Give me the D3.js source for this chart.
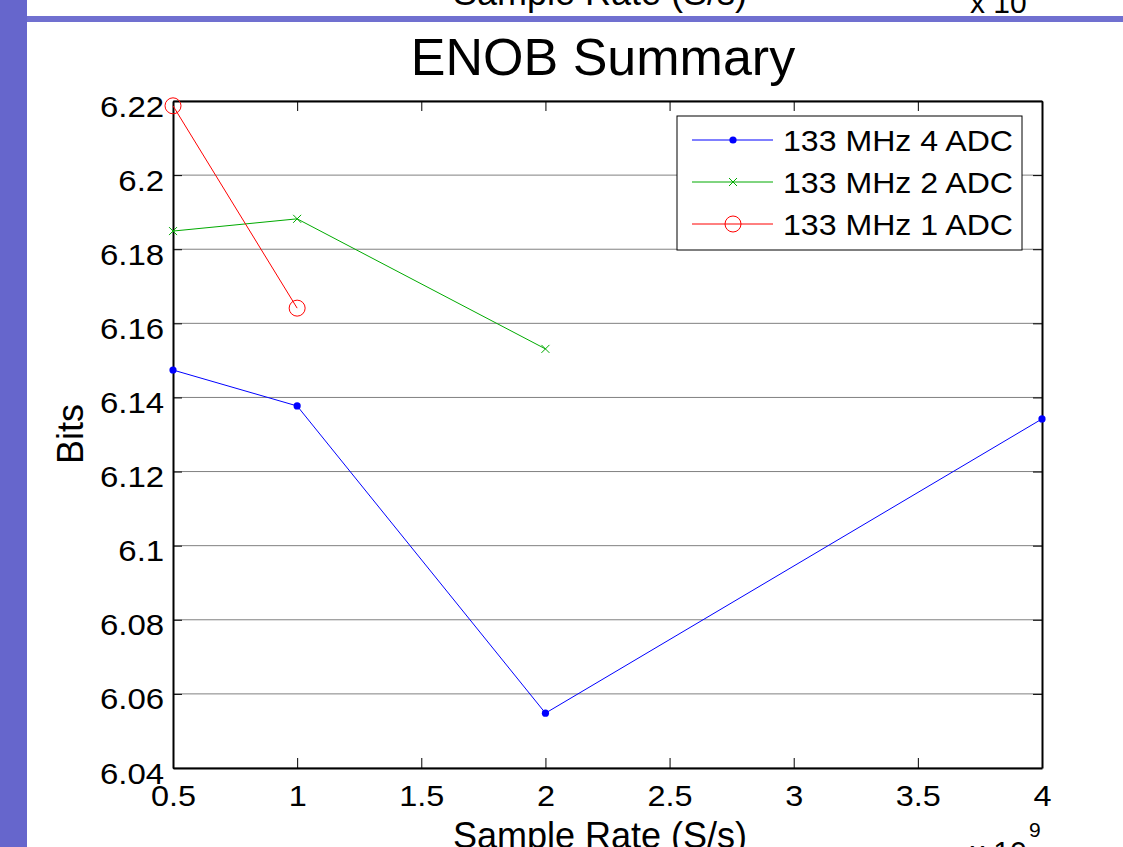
<!DOCTYPE html>
<html>
<head>
<meta charset="utf-8">
<script src="https://cdn.jsdelivr.net/npm/d3@7"></script>
<style>
  body { margin: 0; background: #fff; overflow: hidden; }
  text { font-family: "Liberation Sans", Arial, Helvetica, sans-serif; fill: #000; }
</style>
</head>
<body>
<div id="chart"></div>
<script>
// values (rates in units of 1e9 S/s)
var rates4 = [0.5, 1, 2, 4];
var bits4 = [6.1474, 6.1377, 6.0548, 6.1342];
var rates2 = [0.5, 1, 2];
var bits2 = [6.1849, 6.1882, 6.1531];
var rates1 = [0.5, 1];
var bits1 = [6.2187, 6.1641];
var seriesNames = ["133 MHz 4 ADC", "133 MHz 2 ADC", "133 MHz 1 ADC"];
var xTicks = [0.5, 1, 1.5, 2, 2.5, 3, 3.5, 4];
var yTicks = [6.04, 6.06, 6.08, 6.1, 6.12, 6.14, 6.16, 6.18, 6.2, 6.22];

var W = 1123, H = 847;
var margin = {top: 101, right: 81, bottom: 79, left: 173},
    width = W - margin.left - margin.right,
    height = H - margin.top - margin.bottom;

var svg = d3.select("#chart")
  .append("svg")
    .attr("width", W)
    .attr("height", H);

// slide decoration
svg.append("rect").attr("x", 0).attr("y", 0).attr("width", 27).attr("height", H).attr("fill", "#6666cc");
svg.append("rect").attr("x", 27).attr("y", 16).attr("width", W - 27).attr("height", 6).attr("fill", "#7070d0");

// cut-off text from previous figure at the top
svg.append("text").attr("x", 600).attr("y", 5).attr("text-anchor", "middle")
  .style("font-size", "36px").text("Sample Rate (S/s)");
svg.append("text").attr("x", 970).attr("y", 13)
  .style("font-size", "30px").text("x 10");

var g = svg.append("g")
  .attr("transform", "translate(" + margin.left + "," + margin.top + ")");

var x = d3.scaleLinear().domain([0.5, 4]).range([0, width]);
var y = d3.scaleLinear().domain([6.04, 6.22]).range([height, 0]);

// gridlines
g.selectAll("line.grid")
  .data(yTicks)
  .enter()
  .append("line")
    .attr("class", "grid")
    .attr("x1", 0).attr("x2", width)
    .attr("y1", function(d) { return y(d); })
    .attr("y2", function(d) { return y(d); })
    .attr("stroke", "#808080")
    .attr("stroke-width", 1);

// axes
var fmt = function(d) { return String(+d.toFixed(2)); };

var xAxis = g.append("g")
  .attr("transform", "translate(0," + height + ")")
  .call(d3.axisBottom(x).tickValues(xTicks).tickFormat(fmt).tickSizeInner(-10).tickSizeOuter(0).tickPadding(17));
var yAxis = g.append("g")
  .call(d3.axisLeft(y).tickValues(yTicks).tickFormat(fmt).tickSizeInner(-9).tickSizeOuter(0).tickPadding(8));
g.append("g")
  .call(d3.axisTop(x).tickValues(xTicks).tickFormat("").tickSizeInner(-10).tickSizeOuter(0));
g.append("g")
  .attr("transform", "translate(" + width + ",0)")
  .call(d3.axisRight(y).tickValues(yTicks).tickFormat("").tickSizeInner(-9).tickSizeOuter(0));

g.selectAll(".domain").attr("stroke", "#000").attr("stroke-width", 2);
g.selectAll(".tick line").attr("stroke", "#000").attr("stroke-width", 1);
xAxis.selectAll("text").style("font-size", "30px").attr("fill", "#000").attr("transform", "scale(1.08,1)");
yAxis.selectAll("text").style("font-size", "30px").attr("fill", "#000").attr("dy", "0.5em").attr("transform", "scale(1.1,1)");

// series
var series = [
  {name: seriesNames[0], xs: rates4, ys: bits4, color: "#0000ff", marker: "dot"},
  {name: seriesNames[1], xs: rates2, ys: bits2, color: "#00aa00", marker: "x"},
  {name: seriesNames[2], xs: rates1, ys: bits1, color: "#ff0000", marker: "circle"}
];

var line = d3.line()
  .x(function(d) { return x(d[0]); })
  .y(function(d) { return y(d[1]); });

function drawMarker(sel, s, cx, cy) {
  if (s.marker === "dot") {
    sel.append("circle").attr("cx", cx).attr("cy", cy).attr("r", 3.6).attr("fill", s.color);
  } else if (s.marker === "x") {
    var r = 4;
    sel.append("path")
      .attr("d", "M" + (cx - r) + "," + (cy - r) + "L" + (cx + r) + "," + (cy + r) +
                 "M" + (cx - r) + "," + (cy + r) + "L" + (cx + r) + "," + (cy - r))
      .attr("stroke", s.color).attr("stroke-width", 1).attr("fill", "none");
  } else {
    sel.append("circle").attr("cx", cx).attr("cy", cy).attr("r", 8)
      .attr("fill", "none").attr("stroke", s.color).attr("stroke-width", 1);
  }
}

series.forEach(function(s) {
  var pts = s.xs.map(function(v, i) { return [v, s.ys[i]]; });
  g.append("path")
    .datum(pts)
    .attr("d", line)
    .attr("fill", "none")
    .attr("stroke", s.color)
    .attr("stroke-width", 1);
  var mg = g.append("g");
  pts.forEach(function(p) { drawMarker(mg, s, x(p[0]), y(p[1])); });
});

// legend
var lg = svg.append("g").attr("transform", "translate(677,116)");
lg.append("rect").attr("width", 345).attr("height", 134)
  .attr("fill", "#fff").attr("stroke", "#000").attr("stroke-width", 1);
series.forEach(function(s, i) {
  var ly = 24 + i * 42;
  lg.append("line").attr("x1", 15).attr("x2", 96).attr("y1", ly).attr("y2", ly)
    .attr("stroke", s.color).attr("stroke-width", 1);
  drawMarker(lg, s, 56, ly);
  lg.append("text")
    .attr("transform", "translate(106," + (ly + 11) + ")scale(1.07,1)")
    .style("font-size", "30px").text(s.name);
});

// titles
svg.append("text")
  .attr("x", 603).attr("y", 75)
  .attr("text-anchor", "middle")
  .style("font-size", "52px")
  .text("ENOB Summary");

svg.append("text")
  .attr("x", 600).attr("y", 848)
  .attr("text-anchor", "middle")
  .style("font-size", "36px")
  .text("Sample Rate (S/s)");

svg.append("text")
  .attr("transform", "translate(83,434)rotate(-90)")
  .attr("text-anchor", "middle")
  .style("font-size", "36px")
  .text("Bits");

// exponent label
svg.append("text").attr("x", 970).attr("y", 862).style("font-size", "30px").text("x 10");
svg.append("text").attr("x", 1029).attr("y", 837).style("font-size", "21px").text("9");
</script>
</body>
</html>
